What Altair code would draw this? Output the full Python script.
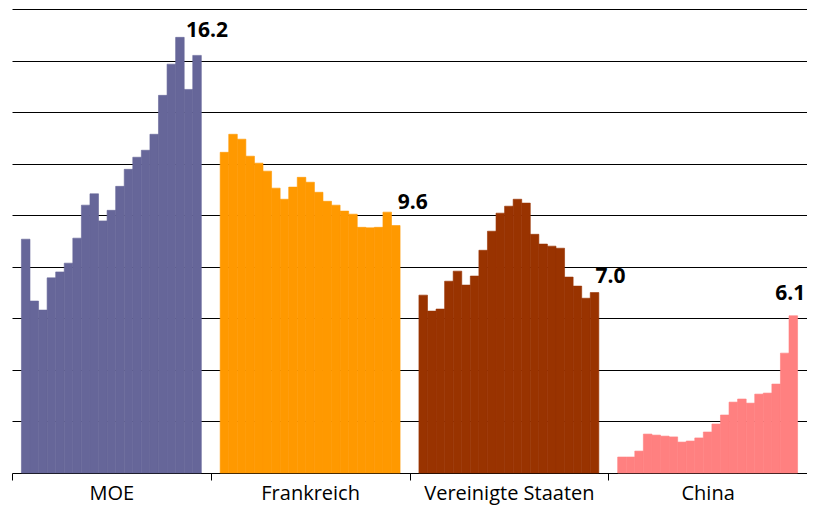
import altair as alt
import pandas as pd

groups = ["MOE", "Frankreich", "Vereinigte Staaten", "China"]
colors = ["#666699", "#FF9900", "#993300", "#FF8080"]
years = list(range(1, 22))

moe = [9.07, 6.67, 6.32, 7.57, 7.80, 8.14, 9.11, 10.39, 10.83, 9.78, 10.19,
       11.12, 11.78, 12.25, 12.52, 13.14, 14.65, 15.86, 16.90, 14.88, 16.2]
frankreich = [12.44, 13.14, 12.95, 12.29, 12.02, 11.71, 11.05, 10.62, 11.09, 11.47, 11.28,
              10.89, 10.54, 10.39, 10.16, 10.04, 9.53, 9.51, 9.53, 10.12, 9.6]
usa = [6.90, 6.28, 6.36, 7.44, 7.83, 7.29, 7.64, 8.64, 9.38, 10.08, 10.35,
       10.62, 10.47, 9.26, 8.88, 8.80, 8.72, 7.60, 7.25, 6.78, 7.0]
china = [0.62, 0.62, 0.85, 1.51, 1.47, 1.43, 1.40, 1.20, 1.24, 1.36, 1.59,
         1.90, 2.25, 2.75, 2.87, 2.71, 3.06, 3.10, 3.45, 4.65, 6.1]

series = [moe, frankreich, usa, china]
grid_values = list(range(2, 19, 2))

rows = []
for g, vals in zip(groups, series):
    for yr, v in zip(years, vals):
        rows.append({"gruppe": g, "jahr": yr, "wert": v})
df = pd.DataFrame(rows)

labels_df = pd.DataFrame({
    "gruppe": groups,
    "jahr": [years[-1]] * 4,
    "wert": [s[-1] for s in series],
})
labels_df["text"] = labels_df["wert"].map(lambda v: f"{v:.1f}")

FONT = "Open Sans"

# one empty slot on each side of every group gives the gap between groups
offset_domain = [years[0] - 1] + years + [years[-1] + 1]

x_enc = alt.X("gruppe:N", sort=groups,
              scale=alt.Scale(paddingInner=0, paddingOuter=0),
              axis=alt.Axis(title=None, labelAngle=0, domainColor="#000000",
                            domainWidth=1, tickColor="#000000", tickSize=7,
                            tickBand="extent", labelFont=FONT, labelFontSize=20,
                            labelColor="#000000", labelPadding=3, grid=False))
xo_enc = alt.XOffset("jahr:O", scale=alt.Scale(domain=offset_domain,
                                               paddingInner=0, paddingOuter=0.1))
y_enc = alt.Y("wert:Q", scale=alt.Scale(domain=[0, 18], nice=False),
              axis=alt.Axis(title=None, values=grid_values, labels=False, ticks=False,
                            domain=False, grid=True, gridColor="#000000", gridWidth=1))

color_scale = alt.Scale(domain=groups, range=colors)
bars = alt.Chart(df).mark_bar(strokeWidth=0.6).encode(
    x=x_enc,
    xOffset=xo_enc,
    y=y_enc,
    color=alt.Color("gruppe:N", scale=color_scale, legend=None),
    stroke=alt.Stroke("gruppe:N", scale=color_scale, legend=None),
)

# per-label nudges (dx, dy) as seen in the reference
offsets = {"MOE": (10, -18), "Frankreich": (17, -17), "Vereinigte Staaten": (16, -10),
           "China": (-3, -16)}
label_layers = []
for g in groups:
    dx, dy = offsets[g]
    label_layers.append(
        alt.Chart(labels_df).transform_filter(alt.datum.gruppe == g).mark_text(
            font=FONT, fontSize=21, fontWeight="bold", color="#000000",
            baseline="alphabetic", align="center", dx=dx, dy=dy,
        ).encode(x=alt.X("gruppe:N", sort=groups), xOffset="jahr:O", y="wert:Q", text="text:N")
    )

chart = alt.layer(bars, *label_layers).properties(
    width=795, height=464,
    autosize=alt.AutoSizeParams(type="none"),
    padding={"left": 4, "top": 1, "right": 0, "bottom": 32},
).configure_view(stroke=None)

chart.save("out.html", embed_options={"renderer": "svg", "actions": False})
